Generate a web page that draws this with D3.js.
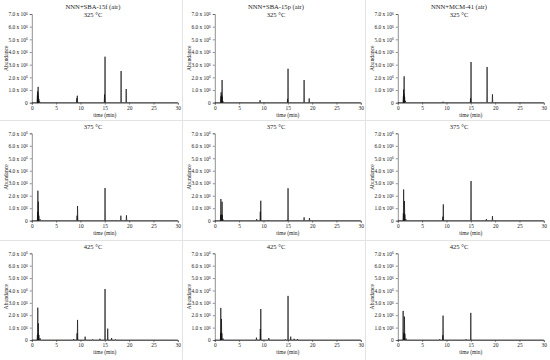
<!DOCTYPE html>
<html>
<head>
<meta charset="utf-8">
<script src="https://cdn.jsdelivr.net/npm/d3@7"></script>
<style>
  body { margin: 0; background: #fff; }
  text { font-family: "Liberation Serif", "Times New Roman", serif; fill: #222; }
</style>
</head>
<body>
<div id="my_dataviz"></div>
<script>
var width = 550
var height = 360

// column / row labels
var materials = ["NNN+SBA-15f (air)", "NNN+SBA-15p (air)", "NNN+MCM-41 (air)"]
var temps = ["325 \u00B0C", "375 \u00B0C", "425 \u00B0C"]
var xTicks = [0, 5, 10, 15, 20, 25, 30]
var yTicks = [0, 1, 2, 3, 4, 5, 6, 7]   // x 10^6

// peaks: retention time (min) and abundance (x 10^6)
var t_15f_325 = [1.15, 1.2, 1.25, 1.3, 1.35, 1.45, 1.6, 9.25, 9.35, 14.95, 15.05, 18.35, 19.4]
var h_15f_325 = [0.6, 0.9, 0.75, 1.25, 0.5, 0.3, 0.1, 0.35, 0.55, 0.65, 3.63, 2.5, 1.08]
var t_15p_325 = [1.25, 1.3, 1.4, 1.5, 1.55, 1.7, 9.3, 14.95, 15.05, 18.35, 19.4]
var h_15p_325 = [0.5, 0.82, 0.6, 1.79, 0.47, 0.1, 0.2, 0.3, 2.68, 1.79, 0.34]
var t_mcm_325 = [1.15, 1.2, 1.25, 1.3, 1.4, 1.55, 9.3, 14.95, 15.05, 18.35, 19.45]
var h_mcm_325 = [0.5, 1.03, 0.7, 2.08, 0.47, 0.15, 0.08, 0.35, 3.21, 2.82, 0.66]

var t_15f_375 = [1.2, 1.25, 1.3, 1.35, 1.45, 1.7, 9.3, 9.4, 15.05, 16.5, 17.3, 18.3, 19.45]
var h_15f_375 = [0.72, 2.4, 0.6, 1.52, 0.4, 0.12, 0.4, 1.18, 2.62, 0.05, 0.05, 0.4, 0.43]
var t_15p_375 = [1.2, 1.25, 1.35, 1.5, 1.55, 1.7, 8.6, 9.35, 9.45, 11.0, 14.9, 15.05, 18.35, 19.45]
var h_15p_375 = [0.45, 1.74, 0.5, 1.52, 0.45, 0.1, 0.13, 0.72, 1.6, 0.05, 0.06, 2.6, 0.27, 0.21]
var t_mcm_375 = [1.15, 1.2, 1.3, 1.37, 1.45, 1.65, 9.25, 9.35, 15.05, 18.2, 19.45]
var h_mcm_375 = [0.6, 2.5, 0.55, 1.58, 0.5, 0.12, 0.32, 1.31, 3.18, 0.13, 0.37]

var t_15f_425 = [1.15, 1.23, 1.3, 1.35, 1.45, 1.7, 8.6, 9.3, 9.4, 10.96, 12.5, 14.0, 15.05, 15.6, 16.4, 17.2]
var h_15f_425 = [0.4, 2.61, 0.5, 1.35, 0.4, 0.15, 0.08, 0.54, 1.62, 0.27, 0.05, 0.1, 4.12, 0.92, 0.16, 0.05]
var t_15p_425 = [1.2, 1.23, 1.3, 1.37, 1.45, 1.7, 8.56, 9.35, 9.45, 11.1, 14.5, 15.05, 15.6, 16.3, 17.0]
var h_15p_425 = [0.54, 2.59, 0.6, 1.7, 0.54, 0.12, 0.19, 0.89, 2.5, 0.16, 0.05, 3.56, 0.27, 0.1, 0.08]
var t_mcm_425 = [1.1, 1.2, 1.3, 1.37, 1.45, 1.7, 8.6, 9.25, 9.3, 14.0, 15.0]
var h_mcm_425 = [2.35, 0.5, 0.6, 1.89, 0.5, 0.12, 0.06, 0.38, 1.97, 0.06, 2.19]

// row-major: row = temperature, col = material
var panels = [
    [t_15f_325, h_15f_325], [t_15p_325, h_15p_325], [t_mcm_325, h_mcm_325],
    [t_15f_375, h_15f_375], [t_15p_375, h_15p_375], [t_mcm_375, h_mcm_375],
    [t_15f_425, h_15f_425], [t_15p_425, h_15p_425], [t_mcm_425, h_mcm_425]
]

var colW = 183, rowH = 120
var rowTop = [14, 13.3, 13.3]      // plot top within each row
var rowBottom = [102.7, 100.7, 100] // plot bottom within each row
var plotL = 31.8, plotR = 177.8
var halfW = 0.06 // peak half width (min)

var svg = d3.select("#my_dataviz")
    .append("svg")
    .attr("width", width)
    .attr("height", height)

svg.append("rect").attr("width", width).attr("height", height).attr("fill", "#fff")

// light table grid between panels
svg.selectAll(".hsep").data([1, 2]).enter().append("line")
    .attr("x1", 0).attr("x2", width)
    .attr("y1", function (d) { return d * rowH + 0.5 })
    .attr("y2", function (d) { return d * rowH + 0.5 })
    .attr("stroke", "#e3e3e3").attr("stroke-width", 1)
svg.selectAll(".vsep").data([1, 2]).enter().append("line")
    .attr("y1", 0).attr("y2", height)
    .attr("x1", function (d) { return d * colW - 0.5 })
    .attr("x2", function (d) { return d * colW - 0.5 })
    .attr("stroke", "#e3e3e3").attr("stroke-width", 1)

panels.forEach(function (p, i) {
    var row = Math.floor(i / 3), col = i % 3
    var g = svg.append("g").attr("transform", "translate(" + (col * colW) + "," + (row * rowH) + ")")

    var x = d3.scaleLinear().domain([0, 30]).range([plotL, plotR])
    var y = d3.scaleLinear().domain([0, 7]).range([rowBottom[row], rowTop[row]])

    // titles
    if (row == 0) {
        g.append("text").attr("x", 93).attr("y", 8.5).attr("text-anchor", "middle")
            .style("font-size", "6.6px").text(materials[col])
        g.append("text").attr("x", 93).attr("y", 16.5).attr("text-anchor", "middle")
            .style("font-size", "6.6px").text(temps[row])
    } else {
        g.append("text").attr("x", 93).attr("y", 8.5).attr("text-anchor", "middle")
            .style("font-size", "6.6px").text(temps[row])
    }

    // y axis
    var ya = g.append("g").attr("transform", "translate(" + plotL + ",0)")
        .call(d3.axisLeft(y).tickValues(yTicks).tickSize(2).tickPadding(2))
    ya.select(".domain").attr("stroke", "#444").attr("stroke-width", 0.6)
    ya.selectAll(".tick line").attr("stroke", "#444").attr("stroke-width", 0.6)
    ya.selectAll(".tick text").each(function (d) {
        var t = d3.select(this).text(null).style("font-size", "5.4px")
            .style("font-family", "Liberation Serif").attr("fill", "#222")
        if (d == 0) { t.text("0"); return }
        t.append("tspan").text(d.toFixed(1) + " x 10")
        t.append("tspan").attr("dy", "-0.35em").style("font-size", "3.6px").text("6")
    })

    // x axis
    var xa = g.append("g").attr("transform", "translate(0," + rowBottom[row] + ")")
        .call(d3.axisBottom(x).tickValues(xTicks).tickSize(2).tickPadding(1.5))
    xa.select(".domain").attr("stroke", "#444").attr("stroke-width", 0.6)
    xa.selectAll(".tick line").attr("stroke", "#444").attr("stroke-width", 0.6)
    xa.selectAll(".tick text").style("font-size", "5.4px")
        .style("font-family", "Liberation Serif").attr("fill", "#222")

    g.append("text").attr("x", (plotL + plotR) / 2).attr("y", rowBottom[row] + 14)
        .attr("text-anchor", "middle").style("font-size", "5.4px").text("time (min)")
    g.append("text")
        .attr("transform", "translate(8," + ((rowTop[row] + rowBottom[row]) / 2) + ") rotate(-90)")
        .attr("text-anchor", "middle").style("font-size", "5.6px").text("Abundance")

    // chromatogram trace
    var pts = [[0, 0]]
    p[0].forEach(function (t, k) {
        pts.push([t - halfW, 0], [t, p[1][k]], [t + halfW, 0])
    })
    pts.push([30, 0])

    g.append("path")
        .datum(pts)
        .attr("fill", "none")
        .attr("stroke", "#111")
        .attr("stroke-width", 0.7)
        .attr("stroke-linejoin", "round")
        .attr("d", d3.line()
            .x(function (d) { return x(d[0]) })
            .y(function (d) { return y(d[1]) }))
})
</script>
</body>
</html>
